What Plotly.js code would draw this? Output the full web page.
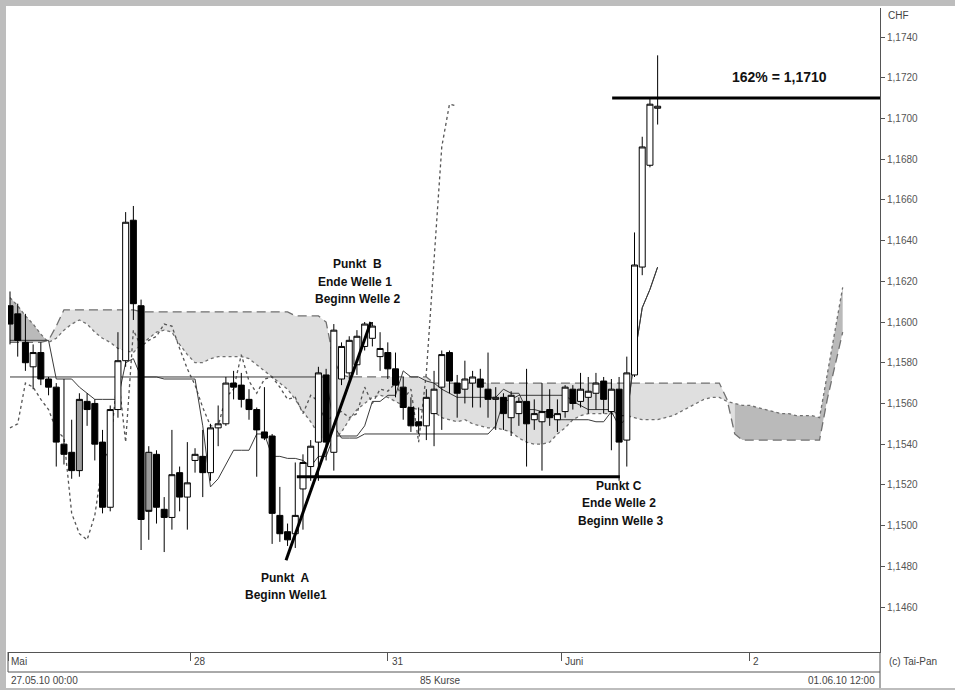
<!DOCTYPE html>
<html><head><meta charset="utf-8">
<script src="https://cdn.plot.ly/plotly-3.0.1.min.js"></script>
<style>
html,body{margin:0;padding:0;width:955px;height:690px;overflow:hidden;background:#bdbdbd;}
#chart{position:absolute;left:6px;top:6px;width:949px;height:682px;background:#fff;}
</style></head>
<body><div id="chart"></div>
<script>
// ---- hourly EUR/CHF candles (index 0 = 27.05.10 00:00) ----
const open = [1.1608,1.1604,1.1590,1.1578,1.1585,1.1572,1.1568,1.1540,1.1536,1.1527,
1.1561,1.1560,1.1541,1.1509,1.1557,1.1581,1.1650,1.1608,1.1536,1.1535,
1.1508,1.1504,1.1526,1.1514,1.1532,1.1534,1.1526,1.1548,1.1550,1.1570,
1.1569,1.1562,1.1557,1.1546,1.1544,1.1505,1.1497,1.1496,1.1518,1.1529,
1.1541,1.1574,1.1536,1.1572,1.1575,1.1579,1.1588,1.1592,1.1583,1.1585,
1.1577,1.1568,1.1558,1.1551,1.1549,1.1555,1.1568,1.1585,1.1570,1.1567,
1.1570,1.1572,1.1567,1.1562,1.1563,1.1553,1.1555,1.1561,1.1552,1.1551,
1.1557,1.1552,1.1556,1.1567,1.1561,1.1563,1.1565,1.1571,1.1556,1.1567,
1.1542,1.1574,1.1627,1.1677,1.1705];
const high = [1.1615,1.1609,1.1604,1.1589,1.1590,1.1573,1.1570,1.1572,1.1552,1.1565,
1.1565,1.1562,1.1547,1.1559,1.1595,1.1654,1.1657,1.1611,1.1539,1.1537,
1.1514,1.1547,1.1529,1.1541,1.1538,1.1547,1.1550,1.1559,1.1573,1.1576,
1.1575,1.1567,1.1558,1.1568,1.1545,1.1519,1.1501,1.1531,1.1535,1.1542,
1.1578,1.1577,1.1599,1.1590,1.1593,1.1596,1.1600,1.1600,1.1595,1.1590,
1.1585,1.1573,1.1563,1.1558,1.1567,1.1576,1.1586,1.1586,1.1574,1.1581,
1.1576,1.1577,1.1585,1.1568,1.1565,1.1566,1.1563,1.1577,1.1562,1.1570,
1.1567,1.1562,1.1569,1.1569,1.1575,1.1573,1.1575,1.1573,1.1572,1.1573,
1.1583,1.1644,1.1691,1.1710,1.1731];
const low = [1.1589,1.1583,1.1576,1.1567,1.1569,1.1564,1.1529,1.1530,1.1523,1.1524,
1.1549,1.1532,1.1506,1.1507,1.1553,1.1578,1.1601,1.1488,1.1493,1.1501,
1.1487,1.1498,1.1507,1.1498,1.1526,1.1514,1.1522,1.1539,1.1549,1.1562,
1.1558,1.1552,1.1524,1.1542,1.1491,1.1492,1.1490,1.1489,1.1498,1.1522,
1.1522,1.1532,1.1527,1.1569,1.1572,1.1574,1.1586,1.1588,1.1576,1.1572,
1.1563,1.1552,1.1546,1.1545,1.1542,1.1539,1.1547,1.1565,1.1553,1.1560,
1.1558,1.1558,1.1553,1.1547,1.1547,1.1544,1.1549,1.1529,1.1547,1.1527,
1.1549,1.1546,1.1553,1.1557,1.1558,1.1555,1.1557,1.1555,1.1537,1.1522,
1.1529,1.1573,1.1623,1.1676,1.1697];
const close = [1.1599,1.1591,1.1580,1.1585,1.1572,1.1568,1.1541,1.1535,1.1527,1.1562,
1.1557,1.1540,1.1509,1.1557,1.1581,1.1649,1.1609,1.1503,1.1507,1.1509,
1.1504,1.1525,1.1514,1.1521,1.1535,1.1526,1.1548,1.1550,1.1570,1.1568,
1.1562,1.1557,1.1547,1.1543,1.1506,1.1496,1.1493,1.1505,1.1531,1.1539,
1.1575,1.1541,1.1596,1.1588,1.1591,1.1593,1.1599,1.1598,1.1587,1.1577,
1.1569,1.1558,1.1549,1.1549,1.1563,1.1567,1.1584,1.1571,1.1565,1.1572,
1.1573,1.1568,1.1562,1.1563,1.1555,1.1564,1.1561,1.1550,1.1555,1.1556,
1.1553,1.1555,1.1568,1.1560,1.1567,1.1566,1.1570,1.1562,1.1567,1.1541,
1.1575,1.1628,1.1686,1.1707,1.1706];
const grayCandles = [9, 18];

// ---- Ichimoku lines ----
const tenkan = [1.1591,1.1591,1.1591,1.1591,1.1591,1.1591,1.1572,1.1572,1.1572,1.1568,
1.1565,1.1562,1.1562,1.1562,1.1562,1.1580,1.1582,1.1573,1.1573,1.1573,
1.1572,1.1572,1.1572,1.1572,1.1572,1.1549,1.1519,1.1523,1.1530,1.1537,
1.1537,1.1537,1.1545,1.1545,1.1534,1.1534,1.1533,1.1533,1.1532,1.1529,
1.1534,1.1534,1.1544,1.1544,1.1544,1.1544,1.1549,1.1561,1.1561,1.1564,
1.1564,1.1576,1.1573,1.1573,1.1571,1.1570,1.1567,1.1565,1.1563,1.1563,
1.1563,1.1563,1.1563,1.1563,1.1567,1.1565,1.1565,1.1557,1.1557,1.1556,
1.1556,1.1552,1.1552,1.1552,1.1552,1.1552,1.1551,1.1551,1.1556,1.1549,
1.1553,1.1583,1.1607,1.1616,1.1627];
const kijun = [1.1573,1.1573,1.1573,1.1573,1.1573,1.1573,1.1573,1.1573,1.1573,1.1573,
1.1573,1.1573,1.1573,1.1573,1.1573,1.1573,1.1573,1.1573,1.1573,1.1573,
1.1573,1.1573,1.1573,1.1573,1.1573,1.1573,1.1573,1.1573,1.1573,1.1573,
1.1573,1.1573,1.1573,1.1573,1.1573,1.1573,1.1573,1.1573,1.1573,1.1573,
1.1573,1.1573,1.1549,1.1543,1.1543,1.1543,1.1545,1.1545,1.1545,1.1545,
1.1545,1.1545,1.1545,1.1545,1.1545,1.1545,1.1545,1.1545,1.1545,1.1545,
1.1545,1.1545,1.1545,1.1549,1.1561,1.1562,1.1564,1.1564,1.1564,1.1564,
1.1564,1.1564,1.1564,1.1561,1.1559,1.1557,1.1557,1.1557,1.1557,1.1554,
1.1554,1.1583,1.1607,1.1616,1.1627];
const spanA = [1.1612,1.1608,1.1603,1.1599,1.1594,1.1590,1.1592,1.1596,1.1599,1.1601,
1.1599,1.1595,1.1592,1.1590,1.1587,1.1586,1.1585,1.1589,1.1592,1.1595,
1.1596,1.1595,1.1589,1.1584,1.1580,1.1580,1.1582,1.1583,1.1583,1.1583,
1.1583,1.1582,1.1579,1.1576,1.1573,1.1570,1.1567,1.1562,1.1556,1.1551,
1.1545,1.1541,1.1542,1.1546,1.1552,1.1557,1.1560,1.1563,1.1564,1.1563,
1.1561,1.1559,1.1558,1.1557,1.1557,1.1556,1.1553,1.1552,1.1551,1.1552,
1.1550,1.1549,1.1548,1.1548,1.1547,1.1546,1.1543,1.1541,1.1540,1.1540,
1.1541,1.1545,1.1548,1.1552,1.1554,1.1555,1.1555,1.1555,1.1555,1.1554,
1.1554,1.1553,1.1552,1.1552,1.1552,1.1553,1.1554,1.1556,1.1558,1.1560,
1.1562,1.1563,1.1563,1.1561,1.1560,1.1559,1.1559,1.1558,1.1557,1.1556,
1.1555,1.1555,1.1554,1.1554,1.1554,1.1553,1.1574,1.1596,1.1617];
const spanB = [1.1590,1.1590,1.1590,1.1590,1.1590,1.1591,1.1598,1.1606,1.1606,1.1606,
1.1606,1.1606,1.1606,1.1606,1.1606,1.1606,1.1606,1.1605,1.1605,1.1605,
1.1605,1.1605,1.1605,1.1605,1.1605,1.1605,1.1605,1.1605,1.1605,1.1605,
1.1605,1.1605,1.1605,1.1605,1.1605,1.1605,1.1605,1.1603,1.1603,1.1603,
1.1603,1.1600,1.1581,1.1574,1.1573,1.1573,1.1573,1.1573,1.1573,1.1573,
1.1573,1.1573,1.1573,1.1573,1.1573,1.1570,1.1570,1.1570,1.1570,1.1570,
1.1570,1.1570,1.1570,1.1570,1.1570,1.1570,1.1570,1.1570,1.1570,1.1570,
1.1570,1.1570,1.1570,1.1570,1.1570,1.1570,1.1570,1.1570,1.1570,1.1570,
1.1570,1.1570,1.1570,1.1570,1.1570,1.1570,1.1570,1.1570,1.1570,1.1570,
1.1570,1.1570,1.1570,1.1562,1.1545,1.1542,1.1542,1.1542,1.1542,1.1542,
1.1542,1.1542,1.1542,1.1542,1.1542,1.1542,1.1562,1.1578,1.1595];
const chikouLag = 26;

// ---- wave analysis marks ----
const waveIdx = [35.8, 46.8];          // Punkt A -> Punkt B
const wavePrice = [1.1483, 1.1600];
const levelC = {from: 37.2, to: 79.1, price: 1.1524};
const level162 = {from: 78.1, price: 1.1710};

// ---- axis labels ----
const xTickVals = [23.35, 49.0, 71.5, 95.85];
const xTickText = ['28', '31', 'Juni', '2'];
const yTickVals = [1.146,1.148,1.150,1.152,1.154,1.156,1.158,1.160,1.162,1.164,1.166,1.168,1.170,1.172,1.174];
const X_RANGE = [-0.26, 112.84];
const Y_RANGE = [1.14379, 1.175425];

const FONT = 'Arial, "Liberation Sans", sans-serif';
const traces = [];
const idx = open.map((_, i) => i);
const cIdx = spanA.map((_, i) => i);
const base = {hoverinfo: 'skip', showlegend: false};

// cloud fills (base subplot, drawn beneath the candles)
let segStart = 0;
const isDark = i => spanA[i] > spanB[i];
for (let i = 1; i <= spanA.length; i++) {
  if (i === spanA.length || isDark(i) !== isDark(segStart)) {
    const e = Math.min(i, spanA.length - 1);
    const xs = cIdx.slice(segStart, e + 1);
    traces.push(Object.assign({x: xs, y: spanB.slice(segStart, e + 1), mode: 'lines', line: {width: 0}}, base));
    traces.push(Object.assign({x: xs, y: spanA.slice(segStart, e + 1), mode: 'lines', line: {width: 0}, fill: 'tonexty',
      fillcolor: isDark(segStart) ? '#bababa' : '#dfdfdf'}, base));
    segStart = i;
  }
}
traces.push(Object.assign({x: cIdx, y: spanB, mode: 'lines', line: {color: '#707070', width: 1.3, dash: '9px,5px'}}, base));
traces.push(Object.assign({x: cIdx, y: spanA, mode: 'lines', line: {color: '#707070', width: 1.3, dash: 'dot'}}, base));
const chikouY = close.slice(chikouLag);
traces.push(Object.assign({x: chikouY.map((_, k) => k), y: chikouY, mode: 'lines', line: {color: '#555', width: 1.3, dash: 'dot'}}, base));
traces.push(Object.assign({x: idx, y: kijun, mode: 'lines', line: {color: '#3a3a3a', width: 1}}, base));
traces.push(Object.assign({x: idx, y: tenkan, mode: 'lines', line: {color: '#3a3a3a', width: 1}}, base));

// candles (overlay subplot, above the cloud)
function candleTrace(keep, upFill, downFill) {
  const ids = idx.filter(keep);
  return Object.assign({type: 'candlestick', xaxis: 'x2', yaxis: 'y2', x: ids,
    open: ids.map(i => open[i]), high: ids.map(i => high[i]),
    low: ids.map(i => low[i]), close: ids.map(i => close[i]), whiskerwidth: 0,
    increasing: {line: {color: '#000', width: 1}, fillcolor: upFill},
    decreasing: {line: {color: '#000', width: 1}, fillcolor: downFill}}, base);
}
traces.push(candleTrace(i => !grayCandles.includes(i), '#ffffff', '#000000'));
traces.push(candleTrace(i => grayCandles.includes(i), '#9c9c9c', '#9c9c9c'));

// wave lines on top
const waveStyle = {xaxis: 'x2', yaxis: 'y2', mode: 'lines', line: {color: '#000', width: 3}};
traces.push(Object.assign({x: waveIdx, y: wavePrice}, waveStyle, base));
traces.push(Object.assign({x: [levelC.from, levelC.to], y: [levelC.price, levelC.price]}, waveStyle, base));
traces.push(Object.assign({x: [level162.from, X_RANGE[1]], y: [level162.price, level162.price]}, waveStyle, base));

const PW = 872, PH = 644;
const px = v => (v - 8) / PW;
const py = v => (652 - v) / PH;

const bold = (text, x, y, size) => ({text: text, xref: 'paper', yref: 'paper', x: px(x), y: py(y),
  xanchor: 'center', yanchor: 'middle', showarrow: false, font: {family: FONT, size: size || 12, color: '#111', weight: 'bold'}});
const small = (text, x, y, anchor) => ({text: text, xref: 'paper', yref: 'paper', x: px(x), y: py(y),
  xanchor: anchor, yanchor: 'middle', showarrow: false, font: {family: FONT, size: 10, color: '#444'}});

const annotations = [
  bold('Punkt\u00a0 B', 357, 264), bold('Ende Welle 1', 355, 282), bold('Beginn Welle 2', 357, 299),
  bold('Punkt\u00a0 A', 285, 578), bold('Beginn Welle1', 286, 595),
  bold('Punkt C', 619, 486), bold('Ende Welle 2', 619, 503), bold('Beginn Welle 3', 620, 521),
  bold('162% = 1,1710', 779, 77, 14),
  small('CHF', 886, 15, 'left'),
  small('(c) Tai-Pan', 887, 661, 'left'),
  small('27.05.10 00:00', 9, 680, 'left'),
  small('85 Kurse', 440, 680, 'center'),
  small('01.06.10 12:00', 877, 680, 'right'),
  {text: 'Mai', xref: 'x', yref: 'paper', x: X_RANGE[0], y: py(661), xanchor: 'left', yanchor: 'middle', xshift: 1,
   showarrow: false, font: {family: FONT, size: 10, color: '#444'}}
].concat(xTickVals.map((v, k) => ({text: xTickText[k], xref: 'x', yref: 'paper', x: v, y: py(661), xanchor: 'left',
   yanchor: 'middle', xshift: 2, showarrow: false, font: {family: FONT, size: 10, color: '#444'}})));

const shapes = [
  {type: 'line', xref: 'paper', yref: 'paper', x0: 0, x1: 1, y0: py(672), y1: py(672), line: {color: '#555', width: 1}},
  {type: 'line', xref: 'paper', yref: 'paper', x0: 1, x1: 1, y0: 0, y1: py(688), line: {color: '#555', width: 1}},
  {type: 'line', xref: 'paper', yref: 'paper', x0: 0, x1: 0, y0: py(652), y1: py(672), line: {color: '#555', width: 1}}
];

const layout = {
  width: 949, height: 682,
  margin: {l: 2, r: 75, t: 2, b: 36},
  paper_bgcolor: '#ffffff', plot_bgcolor: '#ffffff',
  separators: ',.',
  showlegend: false,
  boxgap: 0.22, boxgroupgap: 0,
  xaxis: {range: X_RANGE, showgrid: false, zeroline: false, showline: true, linecolor: '#555', linewidth: 1,
    tickvals: [X_RANGE[0]].concat(xTickVals), ticks: 'outside', ticklen: 8, tickcolor: '#555', showticklabels: false,
    rangeslider: {visible: false}, fixedrange: true},
  yaxis: {side: 'right', range: Y_RANGE, tickvals: yTickVals, tickformat: '.4f', showgrid: false, zeroline: false,
    showline: true, linecolor: '#555', linewidth: 1, ticks: 'outside', ticklen: 4, tickcolor: '#555',
    tickfont: {family: FONT, size: 10, color: '#555'}, fixedrange: true},
  xaxis2: {overlaying: 'x', range: X_RANGE, visible: false, showgrid: false, zeroline: false,
    rangeslider: {visible: false}, fixedrange: true},
  yaxis2: {overlaying: 'y', side: 'right', range: Y_RANGE, visible: false, showgrid: false, zeroline: false, fixedrange: true},
  annotations: annotations,
  shapes: shapes
};

Plotly.newPlot('chart', traces, layout, {staticPlot: true, displayModeBar: false});
</script>
</body></html>
